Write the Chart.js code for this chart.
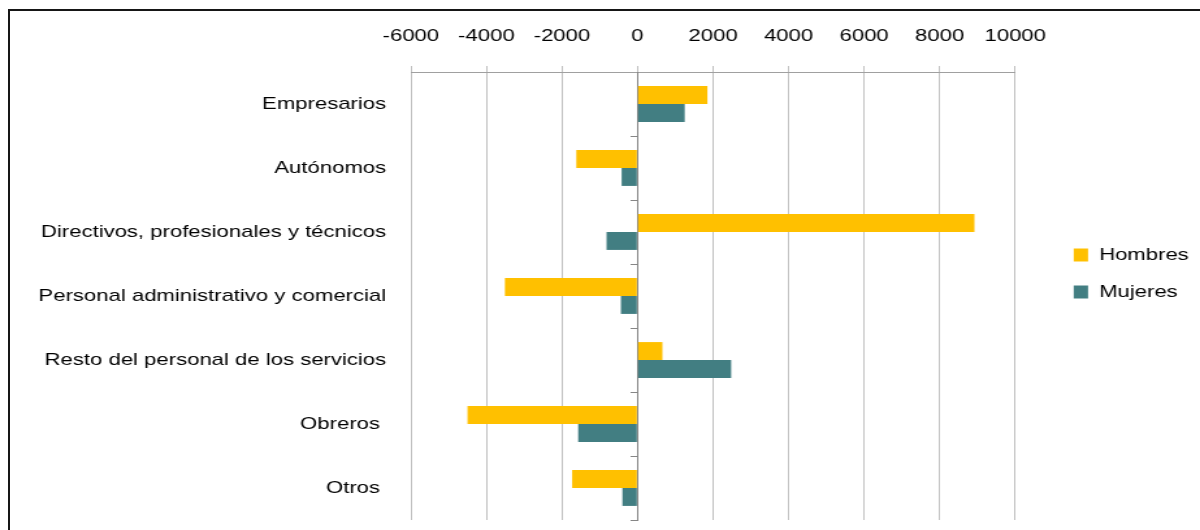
<!DOCTYPE html>
<html>
<head>
<meta charset="utf-8">
<script src="https://cdn.jsdelivr.net/npm/chart.js@4.4.1/dist/chart.umd.min.js"></script>
<style>
  html, body { margin: 0; padding: 0; background: #fff; overflow: hidden; }
  #frame { position: absolute; left: 8px; top: 9px; width: 1300px; height: 600px;
           border-left: 2px solid #161616; border-top: 2px solid #161616; }
  /* the source picture is stretched sideways, so the canvas is drawn narrow and widened */
  #chart { position: absolute; left: 0; top: 0; width: 1200px; height: 530px; }
</style>
</head>
<body>
<div id="frame"></div>
<canvas id="chart" width="923" height="530" style="width:1200px;height:530px"></canvas>
<script>
const categories = ['Empresarios', 'Autónomos', 'Directivos, profesionales y técnicos',
  'Personal administrativo y comercial', 'Resto del personal de los servicios', 'Obreros ', 'Otros '];
const hombres = [1850, -1620, 8920, -3510, 660, -4500, -1730];
const mujeres = [1250, -420, -820, -440, 2480, -1570, -400];
const xMin = -6000, xMax = 10000, xStep = 2000;

const font = { family: "'Liberation Sans', Arial, sans-serif", size: 17 };

new Chart(document.getElementById('chart'), {
  type: 'bar',
  data: {
    labels: categories,
    datasets: [
      { label: 'Hombres', data: hombres, backgroundColor: '#FFC000', yAxisID: 'y' },
      { label: 'Mujeres', data: mujeres, backgroundColor: '#427E82', yAxisID: 'y' }
    ]
  },
  options: {
    indexAxis: 'y',
    responsive: false,
    animation: false,
    devicePixelRatio: 1,
    categoryPercentage: 0.56,
    barPercentage: 1.0,
    layout: { padding: { top: 27, bottom: 10, left: 0, right: 2 } },
    plugins: {
      tooltip: { enabled: false },
      legend: {
        position: 'right',
        labels: { font: font, color: '#000', boxWidth: 11, boxHeight: 13, padding: 20 }
      }
    },
    scales: {
      x: {
        position: 'top',
        min: xMin, max: xMax,
        ticks: {
          stepSize: xStep, font: font, color: '#000', padding: 19,
          maxRotation: 0, minRotation: 0, autoSkip: false,
          callback: v => String(v)
        },
        grid: { color: '#c0c0c0', tickLength: 6, drawTicks: true },
        border: { color: '#a0a0a0' },
        afterFit: s => { s.height = 45; s.paddingLeft = 0; s.paddingRight = 0; }
      },
      y: {
        position: 'left',
        ticks: { font: font, color: '#000', padding: 19 },
        grid: { display: false, drawTicks: false },
        border: { display: false },
        afterFit: s => { s.width = 316; s.paddingTop = 0; s.paddingBottom = 0; }
      },
      yZero: {
        type: 'category',
        axis: 'y',
        position: { x: 0 },
        offset: true,
        ticks: { display: false },
        grid: { offset: true, drawOnChartArea: false, drawTicks: true, tickLength: 5, color: '#868686' },
        border: { color: '#868686' },
        afterFit: s => { s.paddingTop = 0; s.paddingBottom = 0; }
      },
      ySpace: {
        type: 'category',
        axis: 'y',
        position: 'right',
        ticks: { display: false },
        grid: { display: false, drawTicks: false },
        border: { display: false },
        afterFit: s => { s.width = 25; s.paddingTop = 0; s.paddingBottom = 0; }
      }
    }
  }
});
</script>
</body>
</html>
